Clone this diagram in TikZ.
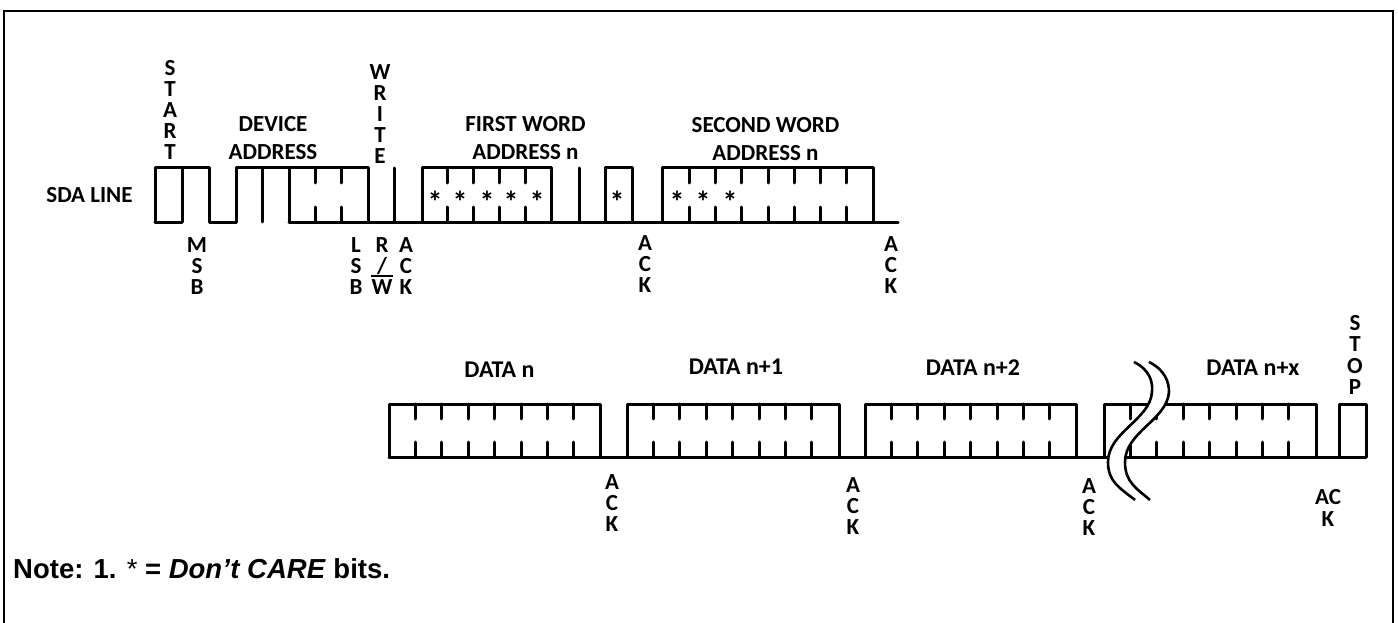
\documentclass[tikz,border=0pt]{standalone}
\usepackage{fontspec}
\setmainfont{Carlito}
\newfontfamily\notefont{Liberation Sans}
\tikzset{x=1pt, y=-1pt,
        wave/.style={ % Thick line of the waveform
            line width=3pt,
            line join=round,
            line cap=round},
        frameline/.style={line width=2.6pt},
        breakline/.style={line width=2.6pt},
        siglabel/.style={ % Bold label text
            inner sep=0pt,
            align=center,
            font=\fontsize{23}{28.5}\selectfont\bfseries},
        datalabel/.style={siglabel, font=\fontsize{24}{28}\selectfont\bfseries},
        stacklabel/.style={siglabel, font=\fontsize{23}{21.2}\selectfont\bfseries},
        dontcare/.style={inner sep=0pt, font=\fontsize{30}{30}\selectfont\bfseries}
        }
\newcommand{\bitticks}[3]{% first x, top y, bottom y
    \foreach \k in {0,...,6} {
        \draw[wave] ({#1+26.4*(\k+1)},#2) -- ++(0,15);
        \draw[wave] ({#1+26.4*(\k+1)},#3) -- ++(0,-15);
    }
}
\begin{document}
\begin{tikzpicture}
    \useasboundingbox (0,0) rectangle (1398,623);
    \draw[frameline] (4,623) -- (4,11) -- (1393,11) -- (1393,623);

    % first row
    \draw[wave] (155,222) -- (155,168) -- (209,168) -- (209,222) -- (236,222) -- (236,168) -- (368,168) -- (368,222);
    \draw[wave] (155,222) -- (182,222);
    \draw[wave] (182,168) -- (182,222);
    \draw[wave] (262.5,168) -- (262.5,222);
    \draw[wave] (289,222) -- (289,168);
    \draw[wave] (289,222) -- (898,222);
    \draw[wave] (394,168) -- (394,222);
    \draw[wave] (422,222) -- (422,168) -- (551,168) -- (551,222);
    \draw[wave] (579,168) -- (579,222);
    \draw[wave] (605,222) -- (605,168) -- (632,168) -- (632,222);
    \draw[wave] (662,222) -- (662,168) -- (873,168) -- (873,222);
    \foreach \x in {315,341,447,473,499,525,689,715,741,768,794,820,846} {
        \draw[wave] (\x,168) -- ++(0,15);
        \draw[wave] (\x,222) -- ++(0,-15);
    }

    % second row
    \draw[wave] (389,457) -- (389,404) -- (600,404) -- (600,457);
    \draw[wave] (627,457) -- (627,404) -- (839,404) -- (839,457);
    \draw[wave] (865,457) -- (865,404) -- (1076,404) -- (1076,457);
    \draw[wave] (1104,457) -- (1104,404) -- (1316,404) -- (1316,457);
    \draw[wave] (1339,457) -- (1339,404) -- (1366,404) -- (1366,457);
    \draw[wave] (389,457) -- (1366,457);
    \bitticks{389}{404}{457}
    \bitticks{627}{404}{457}
    \bitticks{865}{404}{457}
    \bitticks{1104}{404}{457}

    % break in the line
    \fill[white] (1134,362) .. controls (1150,370) and (1153,382) .. (1152,392)
        .. controls (1150,420) and (1108,432) .. (1108,462)
        .. controls (1108,482) and (1120,488) .. (1135,500) -- (1150,500)
        .. controls (1136,488) and (1125,482) .. (1125,462)
        .. controls (1125,432) and (1167,420) .. (1169,392)
        .. controls (1169,382) and (1165,370) .. (1149,362) -- cycle;
    \draw[breakline] (1134,362) .. controls (1150,370) and (1153,382) .. (1152,392)
        .. controls (1150,420) and (1108,432) .. (1108,462)
        .. controls (1108,482) and (1120,488) .. (1135,500);
    \draw[breakline] (1149,362) .. controls (1165,370) and (1169,382) .. (1169,392)
        .. controls (1167,420) and (1125,432) .. (1125,462)
        .. controls (1125,482) and (1136,488) .. (1150,500);

    % labels first row
    \node[siglabel]   (sda)     at (89.5,195)  {SDA LINE};
    \node[stacklabel] (start)   at (170,110)   {S\\T\\A\\R\\T};
    \node[siglabel]   (device)  at (273,138)   {DEVICE\\ADDRESS};
    \node[stacklabel] (write)   at (380,114)   {W\\R\\I\\T\\E};
    \node[siglabel]   (first)   at (525.5,138) {FIRST WORD\\ADDRESS n};
    \node[siglabel]   (second)  at (765.5,139) {SECOND WORD\\ADDRESS n};
    \node[stacklabel] (msb)     at (197,266)   {M\\S\\B};
    \node[stacklabel] (lsb)     at (356,266)   {L\\S\\B};
    \node[stacklabel] (rw)      at (382,266)   {R\\/\\W};
    \draw[line width=1.4pt] (rw.west |- 0,276) -- (rw.east |- 0,276);
    \node[stacklabel] (ack1)    at (406,266)   {A\\C\\K};
    \node[stacklabel] (ack2)    at (645,264)   {A\\C\\K};
    \node[stacklabel] (ack3)    at (891,265)   {A\\C\\K};

    % dont care bits
    \foreach \x [count=\i] in {435,460,487,511,537,617,677,703,730} {
        \node[dontcare] (bit\i) at (\x,202) {*};
    }

    % labels second row
    \node[datalabel]  (datan)   at (499.5,370) {DATA n};
    \node[datalabel]  (datana)  at (736,367)   {DATA n+1};
    \node[datalabel]  (datanb)  at (973,368)   {DATA n+2};
    \node[datalabel]  (datanx)  at (1253,368)  {DATA n+x};
    \node[stacklabel] (stop)    at (1355,355)  {S\\T\\O\\P};
    \node[stacklabel] (ack4)    at (612,503)   {A\\C\\K};
    \node[stacklabel] (ack5)    at (853,506)   {A\\C\\K};
    \node[stacklabel] (ack6)    at (1089,507)  {A\\C\\K};
    \node[stacklabel] (ack7)    at (1328,508)  {AC\\K};

    \node[inner sep=0pt, anchor=west, font=\notefont\fontsize{27.5}{32}\selectfont\bfseries] (note) at (13,569)
        {Note: 1. {\mdseries *} = \textit{Don’t CARE} bits.};
\end{tikzpicture}
\end{document}
